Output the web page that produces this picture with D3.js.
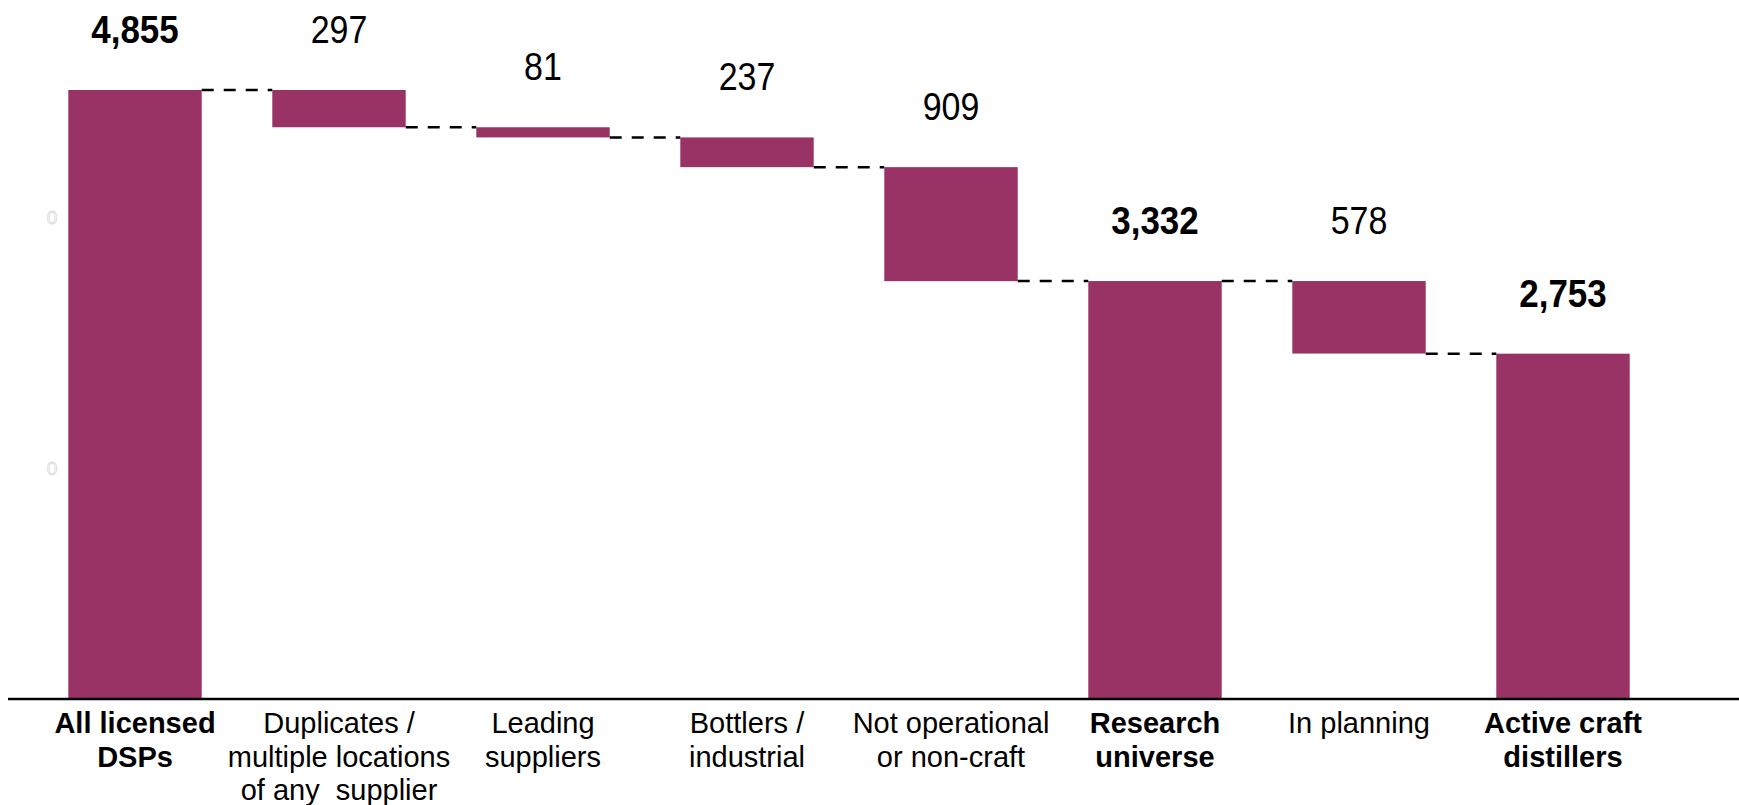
<!DOCTYPE html>
<html>
<head>
<meta charset="utf-8">
<script src="https://cdn.jsdelivr.net/npm/d3@7"></script>
<style>
  body { margin: 0; background: #fff; }
  svg { display: block; font-family: "Liberation Sans", Arial, sans-serif; }
</style>
</head>
<body>
<div class="chart"></div>
<script>
// chart data
var categories = ["all", "dup", "lead", "bottlers", "notop", "research", "planning", "active"];
var labelLines = [
  ["All licensed", "DSPs"],
  ["Duplicates /", "multiple locations", "of any  supplier"],
  ["Leading", "suppliers"],
  ["Bottlers /", "industrial"],
  ["Not operational", "or non-craft"],
  ["Research", "universe"],
  ["In planning"],
  ["Active craft", "distillers"]
];
var values = [4855, 297, 81, 237, 909, 3332, 578, 2753];
var kinds = ["total", "drop", "drop", "drop", "drop", "total", "drop", "total"];
var ghostTicks = [3840, 1845];

const width = 1739;
const height = 805;
const baseY = 699;
const topY = 90;

var svg = d3.select(".chart")
  .append("svg")
  .attr("width", width)
  .attr("height", height);

// waterfall levels
var level = 0;
var bars = [];
values.forEach(function (v, i) {
  if (kinds[i] == "total") {
    level = v;
    bars.push({ key: categories[i], i: i, hi: v, lo: 0, value: v, total: true });
  } else {
    bars.push({ key: categories[i], i: i, hi: level, lo: level - v, value: v, total: false });
    level = level - v;
  }
});

var x = d3.scaleBand()
  .domain(categories)
  .range([33, 1665])
  .paddingInner(0.346)
  .paddingOuter(0.173);

var y = d3.scaleLinear()
  .domain([0, values[0]])
  .range([baseY, topY]);

// faint leftover tick labels
svg.selectAll(".ghost")
  .data(ghostTicks)
  .enter()
  .append("text")
  .attr("class", "ghost")
  .attr("x", 52)
  .attr("y", d => y(d) + 7)
  .attr("text-anchor", "middle")
  .attr("font-size", 19)
  .attr("fill", "#fff")
  .attr("stroke", "#d8d8d8")
  .attr("stroke-width", 0.8)
  .text("0");

// bars
svg.selectAll(".bar")
  .data(bars)
  .enter()
  .append("rect")
  .attr("class", "bar")
  .attr("x", d => x(d.key))
  .attr("y", d => y(d.hi))
  .attr("width", x.bandwidth())
  .attr("height", d => y(d.lo) - y(d.hi))
  .attr("fill", "#993366");

// dashed connectors
var links = bars.slice(1).map(function (d, i) {
  var prev = bars[i];
  return { x1: x(prev.key) + x.bandwidth(), x2: x(d.key), lvl: d.hi };
});
svg.selectAll(".link")
  .data(links)
  .enter()
  .append("line")
  .attr("class", "link")
  .attr("x1", d => d.x1)
  .attr("x2", d => d.x2)
  .attr("y1", d => y(d.lvl))
  .attr("y2", d => y(d.lvl))
  .attr("stroke", "#000")
  .attr("stroke-width", 2.5)
  .attr("stroke-dasharray", "12,10");

// value labels (text in the original is a bit taller than wide)
var fmt = d3.format(",");
svg.selectAll(".val")
  .data(bars)
  .enter()
  .append("text")
  .attr("class", "val")
  .attr("transform", d => "translate(" + (x(d.key) + x.bandwidth() / 2) + "," + (y(d.hi) - 47) + ") scale(1,1.12)")
  .attr("text-anchor", "middle")
  .attr("font-size", d => d.total ? 35 : 34)
  .attr("font-weight", d => d.total ? "bold" : "normal")
  .attr("fill", "#000")
  .text(d => fmt(d.value));

// x axis
var xAxis = d3.axisBottom(x).tickSize(0).tickFormat("");
var gx = svg.append("g")
  .attr("id", "x-axis")
  .attr("transform", "translate(0," + baseY + ")")
  .call(xAxis);
gx.select(".domain").remove();
gx.append("line")
  .attr("x1", 8)
  .attr("x2", width)
  .attr("y1", 0)
  .attr("y2", 0)
  .attr("stroke", "#000")
  .attr("stroke-width", 2.5);

gx.selectAll(".tick text").remove();
gx.selectAll(".tick")
  .append("text")
  .attr("text-anchor", "middle")
  .attr("fill", "#000")
  .attr("font-size", 29)
  .attr("font-weight", (d, i) => kinds[i] == "total" ? "bold" : "normal")
  .style("white-space", "pre")
  .each(function (d, i) {
    var t = d3.select(this);
    labelLines[i].forEach(function (line, j) {
      t.append("tspan")
        .attr("x", 0)
        .attr("y", 34 + j * 33.5)
        .text(line);
    });
  });
</script>
</body>
</html>
